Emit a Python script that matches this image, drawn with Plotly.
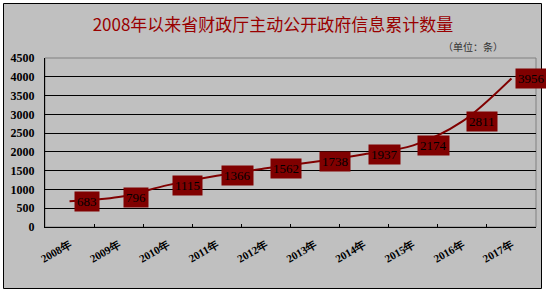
import plotly.graph_objects as go

years = ["2008年", "2009年", "2010年", "2011年", "2012年", "2013年", "2014年", "2015年", "2016年", "2017年"]
values = [683, 796, 1115, 1366, 1562, 1738, 1937, 2174, 2811, 3956]
title_text = "2008年以来省财政厅主动公开政府信息累计数量"
unit_text = "（单位：条）"

W, H = 546, 292
L, R, T, B = 45, 10, 58, 65
pw, ph = W - L - R, H - T - B

def px_x(x):
    return (x - L) / pw

def px_y(y):
    return (H - B - y) / ph

fig = go.Figure()
fig.add_trace(go.Scatter(
    x=years, y=values, mode="lines",
    line=dict(color="#800000", width=2, shape="spline", smoothing=0.9),
    hoverinfo="skip", showlegend=False,
))

annotations = []
for yr, v in zip(years, values):
    annotations.append(dict(
        x=yr, y=v, xref="x", yref="y", text=str(v), showarrow=False,
        xanchor="left", yanchor="middle", xshift=4,
        bgcolor="#800000", borderpad=2,
        font=dict(family="Liberation Serif", size=13, color="#000000"),
    ))
annotations.append(dict(
    x=px_x(505), y=px_y(47), xref="paper", yref="paper", text=unit_text,
    showarrow=False, xanchor="right", yanchor="middle",
    font=dict(family="Noto Sans CJK SC", size=10, color="#333333"),
))

shapes = [
    dict(type="rect", xref="paper", yref="paper", layer="below",
         x0=px_x(3.5), x1=px_x(541.5), y0=px_y(3.5), y1=px_y(288.5),
         fillcolor="#C0C0C0", line=dict(color="#000000", width=1)),
    dict(type="rect", xref="paper", yref="paper", layer="below",
         x0=0, x1=1, y0=0, y1=1,
         fillcolor="rgba(0,0,0,0)", line=dict(color="#808080", width=1)),
]

fig.update_layout(
    width=W, height=H,
    margin=dict(l=L, r=R, t=T, b=B, pad=0),
    paper_bgcolor="#FFFFFF", plot_bgcolor="rgba(0,0,0,0)",
    title=dict(text=title_text, x=0.5, xanchor="center", y=1 - 25 / H, yanchor="middle",
               font=dict(family="Noto Sans CJK SC", size=17, color="#990000")),
    annotations=annotations, shapes=shapes,
    xaxis=dict(
        type="category", range=[-0.5, 9.5], showgrid=False,
        showline=True, linecolor="#000000", linewidth=1,
        ticks="inside", ticklen=3, tickcolor="#000000", tickson="boundaries",
        tickangle=-30, ticklabelstandoff=6,
        tickfont=dict(family="Liberation Serif", size=11, color="#000000", weight="bold"),
    ),
    yaxis=dict(
        range=[0, 4500], dtick=500, tick0=0,
        showgrid=True, gridcolor="#000000", gridwidth=1,
        showline=True, linecolor="#000000", linewidth=1,
        zeroline=False, ticks="", ticklabelstandoff=7,
        tickfont=dict(family="Liberation Serif", size=12, color="#000000", weight="bold"),
    ),
)

fig.write_html("out.html")
